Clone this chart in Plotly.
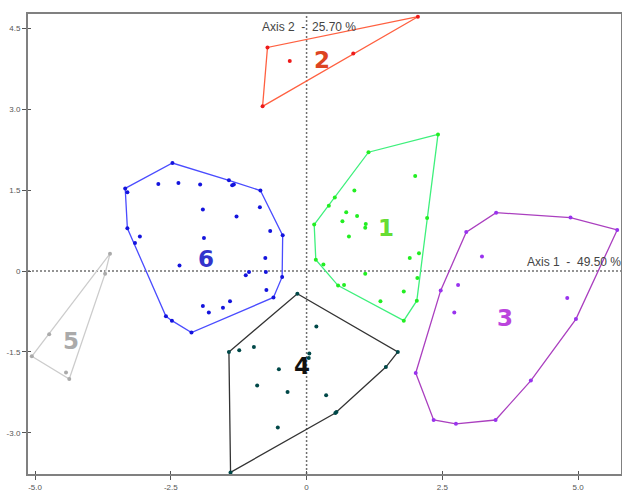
import plotly.graph_objects as go

# ---- data ----
c1_x = [2.42, 1.14, 0.52, 0.41, 0.14, 0.17, 0.58, 1.79, 2.03, 2.22, 2.00, 0.88, 0.73, 0.93, 0.66, 1.09, 1.08,
        0.78, 1.90, 2.07, 0.31, 1.08, 2.04, 0.69, 1.79, 1.36]
c1_y = [2.53, 2.20, 1.36, 1.21, 0.86, 0.21, -0.27, -0.92, -0.55, 0.98, 1.76, 1.49, 1.09, 1.02, 0.92, 0.87, 0.80,
        0.64, 0.24, 0.33, 0.12, -0.05, -0.13, -0.26, -0.38, -0.56]

c2_x = [-0.72, 2.05, 0.86, -0.81, -0.31]
c2_y = [4.14, 4.71, 4.03, 3.05, 3.89]

c3_x = [3.49, 4.86, 5.72, 4.96, 4.13, 3.48, 2.75, 2.34, 2.01, 2.47, 2.94, 3.23, 2.79, 2.72, 4.80]
c3_y = [1.08, 0.99, 0.76, -0.89, -2.03, -2.76, -2.83, -2.76, -1.89, -0.36, 0.72, 0.27, -0.26, -0.77, -0.50]

c4_x = [-0.17, 1.68, 1.46, 0.55, 0.53, -1.40, -1.43, 0.18, -1.24, -0.97, 0.05, 0.04, -0.51, -0.91, -0.35, 0.36, -0.53]
c4_y = [-0.42, -1.50, -1.78, -2.61, -2.63, -3.73, -1.50, -1.03, -1.47, -1.41, -1.53, -1.61, -1.82, -2.12, -2.24,
        -2.30, -2.90]

c5_x = [-3.62, -3.71, -4.37, -5.06, -4.74, -4.43]
c5_y = [0.32, -0.05, -2.00, -1.58, -1.17, -1.88]

c6_x = [-2.47, -1.43, -0.85, -0.44, -0.45, -0.61, -2.12, -2.59, -3.30, -3.34, -3.30, -2.73, -2.36, -1.96, -1.37,
        -1.34, -1.91, -1.29, -0.86, -0.67, -3.07, -3.16, -1.89, -2.34, -0.76, -1.06, -1.12, -0.75, -0.74, -1.91,
        -1.80, -1.54, -1.41, -2.48]
c6_y = [2.00, 1.68, 1.49, 0.66, -0.11, -0.49, -1.14, -0.84, 0.79, 1.53, 1.46, 1.61, 1.63, 1.60, 1.59, 1.60, 1.14,
        1.01, 1.18, 0.74, 0.64, 0.52, 0.61, 0.10, 0.24, -0.02, -0.08, -0.02, -0.35, -0.65, -0.77, -0.68, -0.56,
        -0.92]

cluster_names = ["1", "2", "3", "4", "5", "6"]
label_x = [1.46, 0.28, 3.65, -0.09, -4.33, -1.86]
label_y = [0.82, 3.93, -0.85, -1.75, -1.28, 0.24]

x_tickvals = [-5.0, -2.5, 0, 2.5, 5.0]
x_ticktext = ["-5.0", "-2.5", "0", "2.5", "5.0"]
y_tickvals = [-3.0, -1.5, 0, 1.5, 3.0, 4.5]
y_ticktext = ["-3.0", "-1.5", "0", "1.5", "3.0", "4.5"]

axis1_label = "Axis 1  -  49.50 %"
axis2_label = "Axis 2  -  25.70 %"

# ---- styles ----
hull_colors = ["#3ef07c", "#ff6040", "#aa3fbf", "#333333", "#cccccc", "#4a4cff"]
point_colors = ["#22ee22", "#ee1a1a", "#9933ee", "#004848", "#aaaaaa", "#1414dd"]
label_colors = ["#66dd33", "#dd4422", "#bb44dd", "#111111", "#aaaaaa", "#3333cc"]

clusters = [(c1_x, c1_y), (c2_x, c2_y), (c3_x, c3_y), (c4_x, c4_y), (c5_x, c5_y), (c6_x, c6_y)]


def convex_hull(xs, ys):
    pts = sorted(set(zip(xs, ys)))

    def cross(o, a, b):
        return (a[0] - o[0]) * (b[1] - o[1]) - (a[1] - o[1]) * (b[0] - o[0])

    lower, upper = [], []
    for p in pts:
        while len(lower) >= 2 and cross(lower[-2], lower[-1], p) <= 0:
            lower.pop()
        lower.append(p)
    for p in reversed(pts):
        while len(upper) >= 2 and cross(upper[-2], upper[-1], p) <= 0:
            upper.pop()
        upper.append(p)
    h = lower[:-1] + upper[:-1]
    h.append(h[0])
    return [p[0] for p in h], [p[1] for p in h]


fig = go.Figure()

for (xs, ys), hc, pc in zip(clusters, hull_colors, point_colors):
    hx, hy = convex_hull(xs, ys)
    fig.add_trace(go.Scatter(x=hx, y=hy, mode="lines", line=dict(color=hc, width=1.3),
                             hoverinfo="skip", showlegend=False))
    fig.add_trace(go.Scatter(x=xs, y=ys, mode="markers", marker=dict(color=pc, size=4),
                             showlegend=False))

# invisible trace on overlay axes (for crossing tick marks)
fig.add_trace(go.Scatter(x=[None], y=[None], xaxis="x2", yaxis="y2", showlegend=False, hoverinfo="skip"))

for name, lx, ly, lc in zip(cluster_names, label_x, label_y, label_colors):
    fig.add_annotation(x=lx, y=ly, text="<b>" + name + "</b>", showarrow=False, xanchor="center",
                       yanchor="middle", yshift=-1, font=dict(family="DejaVu Sans", size=23, color=lc))

# dotted zero lines
fig.add_shape(type="line", xref="x", yref="paper", x0=0, x1=0, y0=0, y1=1,
              line=dict(color="#707070", width=1.5, dash="2px,2px"), layer="below")
fig.add_shape(type="line", xref="paper", yref="y", x0=0, x1=1, y0=0, y1=0,
              line=dict(color="#707070", width=1.5, dash="2px,2px"), layer="below")

fig.add_annotation(x=0, y=0.971, xref="x", yref="paper", text=axis2_label, showarrow=False,
                   xanchor="center", yanchor="middle", xshift=2,
                   font=dict(family="Liberation Sans", size=12, color="#444444"))
fig.add_annotation(x=1, y=0, xref="paper", yref="y", text=axis1_label, showarrow=False,
                   xanchor="right", yanchor="bottom", xshift=2,
                   font=dict(family="Liberation Sans", size=12, color="#444444"))

xr = [-5.13, 5.79]
yr = [-3.76, 4.76]
tickfont = dict(family="Liberation Sans", size=8, color="#555555")

fig.update_layout(
    width=622, height=491,
    margin=dict(l=28, r=1, t=14, b=17, autoexpand=False),
    paper_bgcolor="white", plot_bgcolor="white",
    showlegend=False,
    xaxis=dict(range=xr, tickvals=x_tickvals, ticktext=x_ticktext, showgrid=False, zeroline=False,
               showline=True, mirror=True, linecolor="#808080", linewidth=2, automargin=False,
               ticks="outside", ticklen=4, tickwidth=1.2, tickcolor="#555555", tickfont=tickfont),
    yaxis=dict(range=yr, tickvals=y_tickvals, ticktext=y_ticktext, showgrid=False, zeroline=False,
               showline=True, mirror=True, linecolor="#808080", linewidth=2, automargin=False,
               ticks="outside", ticklen=4, tickwidth=1.2, tickcolor="#555555", tickfont=tickfont),
    xaxis2=dict(range=xr, overlaying="x", matches="x", anchor="y2", tickvals=x_tickvals, showticklabels=False,
                showgrid=False, zeroline=False, showline=False, ticks="inside", ticklen=3, tickwidth=1.2,
                tickcolor="#555555", side="bottom", automargin=False),
    yaxis2=dict(range=yr, overlaying="y", matches="y", anchor="x2", tickvals=y_tickvals, showticklabels=False,
                showgrid=False, zeroline=False, showline=False, ticks="inside", ticklen=3, tickwidth=1.2,
                tickcolor="#555555", side="left", automargin=False),
)

fig.write_html("out.html")
